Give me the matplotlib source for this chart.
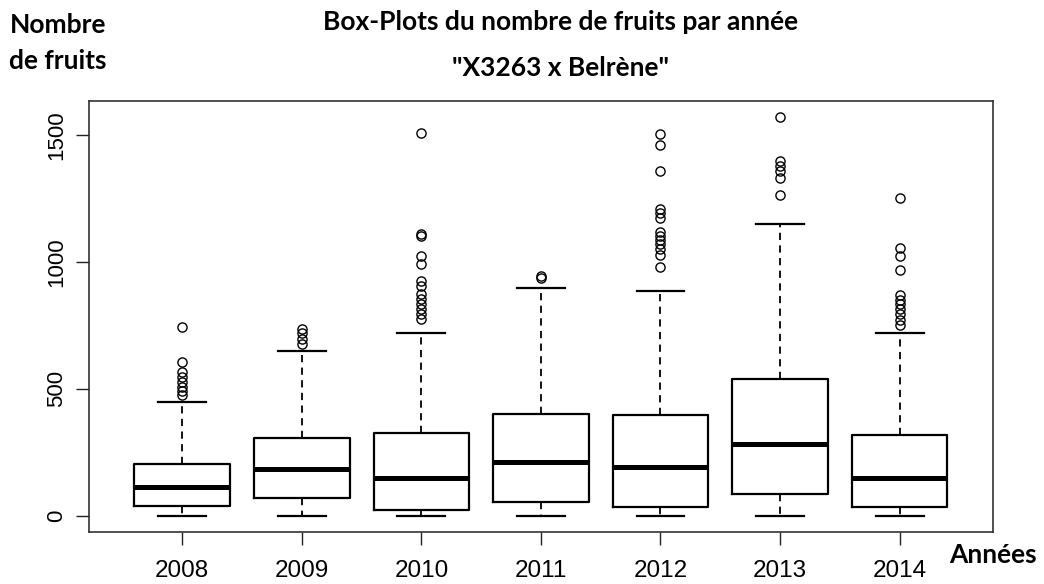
import matplotlib
matplotlib.use("Agg")
import matplotlib.pyplot as plt

years = ["2008", "2009", "2010", "2011", "2012", "2013", "2014"]
q1 = [37, 70, 24, 53, 34, 87, 34]
med = [113, 184, 147, 212, 193, 283, 147]
q3 = [205, 306, 324, 401, 396, 537, 318]
whislo = [0, 0, 0, 0, 0, 0, 0]
whishi = [449, 649, 721, 896, 884, 1149, 718]
fliers = [
    [743, 607, 565, 546, 525, 508, 491, 474],
    [734, 718, 697, 677],
    [1508, 1110, 1103, 1023, 991, 925, 905, 875, 853, 833, 813, 793, 774],
    [945, 935],
    [1504, 1458, 1357, 1208, 1191, 1173, 1116, 1103, 1086, 1070, 1050, 1028, 978],
    [1570, 1395, 1376, 1357, 1330, 1262],
    [1250, 1056, 1024, 967, 870, 850, 833, 813, 793, 771, 751],
]

stats = []
for i in range(len(years)):
    stats.append(dict(med=med[i], q1=q1[i], q3=q3[i], whislo=whislo[i],
                      whishi=whishi[i], fliers=fliers[i], label=years[i]))

fig = plt.figure(figsize=(10.44, 5.84), dpi=100)
ax = fig.add_axes([0.0853, 0.0896, 0.8657, 0.7374])

ax.bxp(stats, positions=range(1, 8), widths=0.8, patch_artist=False,
       boxprops=dict(color="black", linewidth=1.6),
       medianprops=dict(color="black", linewidth=3.6, solid_capstyle="butt"),
       whiskerprops=dict(color="black", linewidth=1.3, linestyle=(0, (4, 3))),
       capprops=dict(color="black", linewidth=1.6),
       capwidths=0.4,
       flierprops=dict(marker="o", markerfacecolor="none", markeredgecolor="black",
                       markersize=6.6, markeredgewidth=1.0, linestyle="none"))

ax.set_xlim(0.22, 7.78)
ax.set_ylim(-63, 1633)
ax.set_xticks(range(1, 8))
ax.set_xticklabels(years, fontsize=17.5, family="Liberation Sans")
ax.set_yticks([0, 500, 1000, 1500])
ax.set_yticklabels(["0", "500", "1000", "1500"], fontsize=16, family="Liberation Sans",
                   rotation=90, va="center")
ax.tick_params(axis="x", length=9.5, width=1, pad=11, color="#222222")
ax.tick_params(axis="y", length=9.5, width=1, pad=6, color="#222222")
for s in ax.spines.values():
    s.set_color("#333333")
    s.set_linewidth(1.2)

fig.text(0.537, 0.962, "Box-Plots du nombre de fruits par année", ha="center", va="center",
         fontsize=19, fontweight="bold", family="Lato")
fig.text(0.537, 0.884, "\"X3263 x Belrène\"", ha="center", va="center",
         fontsize=19, fontweight="bold", family="Lato")
fig.text(0.009, 0.958, "Nombre", ha="left", va="center", fontsize=19, fontweight="bold", family="Lato")
fig.text(0.009, 0.896, "de fruits", ha="left", va="center", fontsize=19, fontweight="bold", family="Lato")
fig.text(0.909, 0.050, "Années", ha="left", va="center", fontsize=19, fontweight="bold", family="Lato")

fig.savefig("out.png", dpi=100)
